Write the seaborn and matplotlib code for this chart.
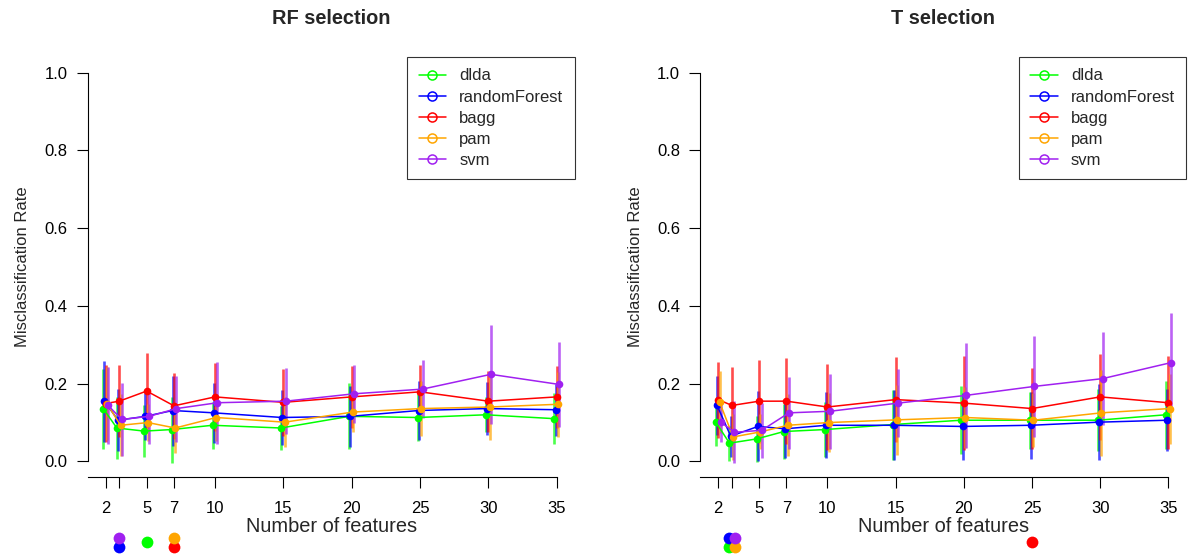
import numpy as np
import pandas as pd
import matplotlib
matplotlib.use("Agg")
import matplotlib.pyplot as plt
from matplotlib.lines import Line2D
import seaborn as sns

# ---- data -------------------------------------------------------------
features = [2, 3, 5, 7, 10, 15, 20, 25, 30, 35]
xtick_labels = ["2", "", "5", "7", "10", "15", "20", "25", "30", "35"]
methods = ["dlda", "randomForest", "bagg", "pam", "svm"]
colors = ["#00FF00", "#0000FF", "#FF0000", "#FFA500", "#A020F0"]
panel_titles = ["RF selection", "T selection"]

# RF selection: mean misclassification rate and standard deviation
rf_dlda_mean = [0.136, 0.086, 0.078, 0.082, 0.093, 0.086, 0.116, 0.113, 0.120, 0.110]
rf_rforest_mean = [0.155, 0.106, 0.116, 0.131, 0.125, 0.113, 0.116, 0.131, 0.136, 0.133]
rf_bagg_mean = [0.149, 0.155, 0.181, 0.143, 0.166, 0.152, 0.166, 0.179, 0.155, 0.166]
rf_pam_mean = [0.149, 0.093, 0.100, 0.086, 0.113, 0.101, 0.127, 0.136, 0.140, 0.147]
rf_svm_mean = [0.144, 0.108, 0.116, 0.136, 0.151, 0.155, 0.174, 0.186, 0.224, 0.198]

rf_dlda_sd = [0.103, 0.080, 0.066, 0.085, 0.060, 0.056, 0.085, 0.060, 0.045, 0.066]
rf_rforest_sd = [0.104, 0.080, 0.060, 0.090, 0.078, 0.070, 0.078, 0.075, 0.068, 0.067]
rf_bagg_sd = [0.100, 0.092, 0.098, 0.085, 0.088, 0.087, 0.080, 0.068, 0.078, 0.080]
rf_pam_sd = [0.095, 0.080, 0.047, 0.065, 0.060, 0.065, 0.050, 0.070, 0.085, 0.083]
rf_svm_sd = [0.100, 0.095, 0.070, 0.085, 0.105, 0.085, 0.075, 0.074, 0.128, 0.110]

# T selection: mean misclassification rate and standard deviation
t_dlda_mean = [0.101, 0.047, 0.058, 0.077, 0.082, 0.095, 0.106, 0.106, 0.106, 0.120]
t_rforest_mean = [0.144, 0.065, 0.090, 0.084, 0.093, 0.093, 0.090, 0.093, 0.101, 0.106]
t_bagg_mean = [0.159, 0.144, 0.155, 0.155, 0.140, 0.159, 0.150, 0.136, 0.166, 0.151]
t_pam_mean = [0.153, 0.063, 0.076, 0.093, 0.100, 0.107, 0.113, 0.106, 0.125, 0.136]
t_svm_mean = [0.101, 0.075, 0.080, 0.125, 0.129, 0.150, 0.170, 0.193, 0.213, 0.254]

t_dlda_sd = [0.060, 0.045, 0.060, 0.070, 0.070, 0.090, 0.088, 0.073, 0.080, 0.087]
t_rforest_sd = [0.077, 0.053, 0.090, 0.075, 0.085, 0.090, 0.085, 0.086, 0.098, 0.080]
t_bagg_sd = [0.098, 0.100, 0.107, 0.110, 0.110, 0.110, 0.120, 0.105, 0.110, 0.120]
t_pam_sd = [0.080, 0.060, 0.045, 0.080, 0.075, 0.090, 0.078, 0.070, 0.110, 0.090]
t_svm_sd = [0.050, 0.080, 0.070, 0.092, 0.097, 0.088, 0.135, 0.130, 0.120, 0.128]

rf_means = [rf_dlda_mean, rf_rforest_mean, rf_bagg_mean, rf_pam_mean, rf_svm_mean]
rf_sds = [rf_dlda_sd, rf_rforest_sd, rf_bagg_sd, rf_pam_sd, rf_svm_sd]
t_means = [t_dlda_mean, t_rforest_mean, t_bagg_mean, t_pam_mean, t_svm_mean]
t_sds = [t_dlda_sd, t_rforest_sd, t_bagg_sd, t_pam_sd, t_svm_sd]

# ---- style ------------------------------------------------------------
sns.set_theme(style="white")
plt.rcParams["font.family"] = ["Liberation Sans", "DejaVu Sans"]
plt.rcParams["axes.edgecolor"] = "black"
plt.rcParams["axes.linewidth"] = 0.8

W, H = 1191, 556
fig = plt.figure(figsize=(W / 100, H / 100), dpi=100)
fig.patch.set_facecolor("white")

XMIN, XMAX = 0.68, 36.32
YMIN, YMAX = -0.04, 1.04
dodge = np.linspace(-0.18, 0.18, len(methods))


def long_table(means, sds):
    rows = []
    for k, m in enumerate(methods):
        for f, mu, sd in zip(features, means[k], sds[k]):
            rows.append({"method": m, "features": f, "x": f + dodge[k],
                         "rate": mu, "sd": sd})
    return pd.DataFrame(rows)


def draw_panel(ax, title, means, sds):
    df = long_table(means, sds)
    for k, m in enumerate(methods):
        sub = df[df["method"] == m]
        ax.vlines(sub["x"], sub["rate"] - sub["sd"], sub["rate"] + sub["sd"],
                  color=colors[k], alpha=0.7, lw=1.9, zorder=2)
        sns.lineplot(data=sub, x="x", y="rate", color=colors[k], marker="o",
                     markersize=5.5, markeredgewidth=0, lw=1.1,
                     estimator=None, sort=False, legend=False, ax=ax, zorder=3)

    ax.set_xlim(XMIN, XMAX)
    ax.set_ylim(YMIN, YMAX)
    ax.spines["top"].set_visible(False)
    ax.spines["right"].set_visible(False)
    ax.spines["left"].set_bounds(0, 1)
    ax.spines["bottom"].set_bounds(XMIN, features[-1])

    ax.set_yticks(np.round(np.arange(0, 1.01, 0.2), 1))
    ax.set_yticklabels([f"{v:.1f}" for v in np.arange(0, 1.01, 0.2)])
    ax.set_xticks(features)
    ax.set_xticklabels(xtick_labels)
    ax.tick_params(axis="both", direction="out", length=8, width=0.8,
                   colors="black", labelsize=12, left=True, bottom=True)
    ax.tick_params(axis="y", pad=6.5)
    ax.tick_params(axis="x", pad=9)

    ax.set_title(title, fontsize=14.4, fontweight="bold", pad=23.4)
    ax.set_xlabel("Number of features", fontsize=14.4)
    ax.xaxis.set_label_coords(0.5, -0.096)
    ax.set_ylabel("Misclassification Rate", fontsize=12)
    ax.yaxis.set_label_coords(-0.118, 0.5)

    handles = [Line2D([0], [0], color=c, lw=1.1, marker="o", mfc="none",
                      mec=c, ms=6.5, mew=1.1) for c in colors]
    leg = ax.legend(handles, methods, loc="upper right", bbox_to_anchor=(1, 1),
                    borderaxespad=0, frameon=True, fancybox=False,
                    edgecolor="black", fontsize=12, handlelength=1.65,
                    handletextpad=0.8, labelspacing=0.37, borderpad=0.68)
    leg.get_frame().set_linewidth(0.8)

    # best feature count for each method, marked under the axis
    best = {m: features[int(np.argmin(means[k]))] for k, m in enumerate(methods)}
    groups = {}
    for k, m in enumerate(methods):
        groups.setdefault(best[m], []).append(k)
    for fx, ks in groups.items():
        n = len(ks)
        ncol = 1 if n <= 2 else 2
        for i, k in enumerate(ks):
            col, row = (0, i) if ncol == 1 else (i // 2, i % 2)
            xo = 0.0 if ncol == 1 else (col - 0.5) * 0.5
            if n == 1:
                yv = -0.208
            else:
                yv = -0.219 if row == 0 else -0.198
            ax.scatter([fx + xo], [yv], s=72, color=colors[k], linewidths=0,
                       clip_on=False, zorder=5)


ax_left = fig.add_axes([87.6 / W, 1 - 477 / H, 487.2 / W, 420 / H])
ax_right = fig.add_axes([700.3 / W, 1 - 477 / H, 486.1 / W, 420 / H])

draw_panel(ax_left, panel_titles[0], rf_means, rf_sds)
draw_panel(ax_right, panel_titles[1], t_means, t_sds)

fig.savefig("out.png", dpi=100, facecolor="white")
